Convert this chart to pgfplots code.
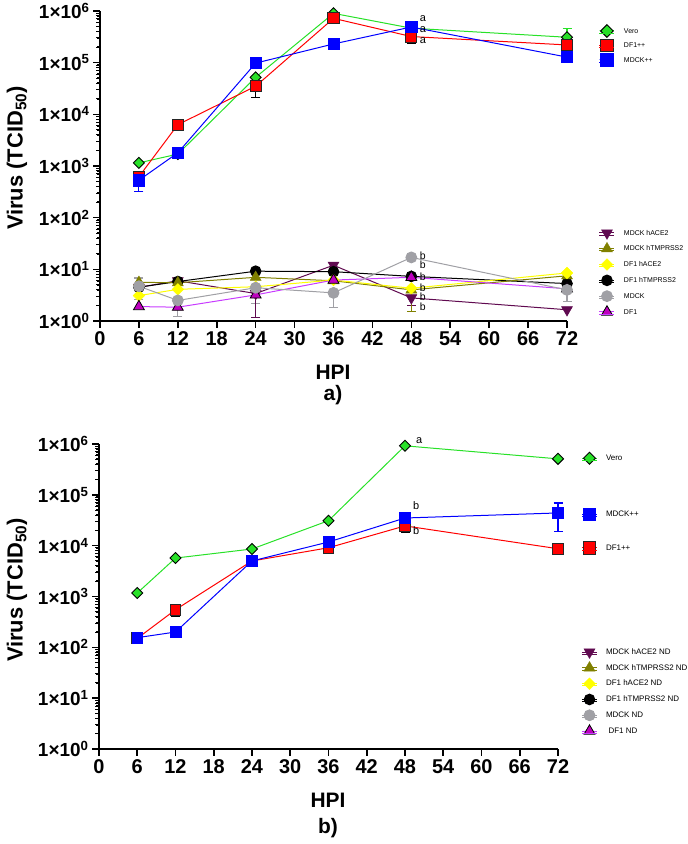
\documentclass[border=0pt]{standalone}
\usepackage{fontspec}
\setmainfont{Liberation Sans}
\usepackage{pgfplots}
\pgfplotsset{compat=1.18}

\definecolor{vgreen}{RGB}{40,225,40}
\definecolor{dred}{RGB}{255,0,0}
\definecolor{dblue}{RGB}{0,0,255}
\definecolor{dpurple}{RGB}{96,10,80}
\definecolor{olivec}{RGB}{128,128,0}
\definecolor{yell}{RGB}{255,255,0}
\definecolor{greyc}{RGB}{160,160,165}
\definecolor{magc}{RGB}{190,0,190}
\definecolor{violc}{RGB}{200,60,255}

\pgfplotsset{
  myaxis/.style={
    scale only axis, xmin=0, xmax=72, ymin=1, ymax=1e6,
    axis x line*=bottom, axis y line*=left,
    axis line style={line width=2bp, black},
    xtick align=outside, ytick align=outside,
    major tick length=7bp,
    every tick/.style={black, line width=1.6bp},
    xtick style={black, line width=1.6bp},
    ytick style={black, line width=1.6bp},
    xtick={0,6,...,72},
    ytick={1,10,100,1000,10000,100000,1000000},
    yticklabels={1×10\textsuperscript{0},1×10\textsuperscript{1},1×10\textsuperscript{2},1×10\textsuperscript{3},1×10\textsuperscript{4},1×10\textsuperscript{5},1×10\textsuperscript{6}},
    extra y ticks={2,3,4,5,6,7,8,9,20,30,40,50,60,70,80,90,200,300,400,500,600,700,800,900,2000,3000,4000,5000,6000,7000,8000,9000,20000,30000,40000,50000,60000,70000,80000,90000,200000,300000,400000,500000,600000,700000,800000,900000},
    extra y tick labels={},
    extra y tick style={major tick length=4bp, ytick align=outside, ytick style={black, line width=1bp}},
    xticklabel style={font=\bfseries\fontsize{20}{20}\selectfont},
    yticklabel style={font=\bfseries\fontsize{19}{19}\selectfont},
    /pgf/number format/assume math mode=true,
    clip=false,
    legend image code/.code={
      \draw[overlay,mark repeat=2,mark phase=2] plot coordinates {(0bp,2.2bp) (7.5bp,2.2bp) (15bp,2.2bp)};
      \path (0bp,0bp) -- (15bp,0bp);
    },
  },
  hiddenaxis/.style={scale only axis, xmin=0, xmax=72, ymin=1, ymax=1e6, hide axis, clip=false,
    legend image code/.code={
      \draw[overlay,mark repeat=2,mark phase=2] plot coordinates {(0bp,2.2bp) (7.5bp,2.2bp) (15bp,2.2bp)};
      \path (0bp,0bp) -- (15bp,0bp);
    }},
  vero/.style={color=vgreen, line width=1bp, mark=square*, mark size=3.9bp, mark options={fill=vgreen, draw=black, line width=0.9bp, rotate=45}},
  df1pp/.style={color=dred, line width=1bp, mark=square*, mark size=5.6bp, mark options={fill=dred, draw=black!85, line width=1bp}},
  mdckpp/.style={color=dblue, line width=1bp, mark=square*, mark size=5.6bp, mark options={fill=dblue, draw=dblue, line width=0.6bp}},
  mdckh/.style={color=dpurple, line width=1bp, mark=triangle*, mark size=6.3bp, mark options={fill=dpurple, draw=dpurple, rotate=180, line width=0.5bp}},
  mdckt/.style={color=olivec, line width=1bp, mark=triangle*, mark size=6.3bp, mark options={fill=olivec, draw=olivec, line width=0.5bp}},
  df1h/.style={color=yell, line width=1bp, mark=square*, mark size=4.1bp, mark options={fill=yell, draw=yell, rotate=45, line width=0.5bp}},
  df1t/.style={color=black, line width=1bp, mark=*, mark size=5.3bp, mark options={fill=black, draw=black}},
  mdck/.style={color=greyc, line width=1bp, mark=*, mark size=5.4bp, mark options={fill=greyc, draw=greyc}},
  df1/.style={color=violc, line width=1bp, mark=triangle*, mark size=6.3bp, mark options={fill=magc, draw=black, line width=0.8bp}},
}

\begin{document}
\begin{tikzpicture}[x=1bp,y=1bp]
\path[use as bounding box] (0,0) rectangle (688,844);

%================ Panel a =================
\begin{semilogyaxis}[myaxis, at={(100bp,523bp)}, anchor=south west, width=467bp, height=310bp,
  legend style={draw=none, fill=none, inner sep=0pt, outer sep=0pt, column sep=9bp, row sep=0pt,
      cells={anchor=base west}, nodes={inner sep=0pt, outer sep=0pt, text height=10bp, text depth=4.5bp},
      at={(1.0685,0.9606)}, anchor=north west, font=\fontsize{7}{7}\selectfont}]
% error bars
\addplot[only marks, mark=none, forget plot, color=greyc, error bars/.cd, y dir=both, y explicit, error bar style={line width=1.1bp, color=greyc}, error mark options={rotate=90, mark size=4.5bp, line width=1.1bp, color=greyc}]
  coordinates {(6,4.7) +- (0,2.1) (12,2.5) -= (0,1.3) (24,4.4) -= (0,2.2) (36,3.5) -= (0,1.7) (72,4.0) +- (0,1.6)};
\addplot[only marks, mark=none, forget plot, color=dpurple, error bars/.cd, y dir=both, y explicit, error bar style={line width=1.1bp, color=dpurple}, error mark options={rotate=90, mark size=4.5bp, line width=1.1bp, color=dpurple}]
  coordinates {(24,3.4) -= (0,2.25) (48,2.8) -= (0,0.8)};
\addplot[only marks, mark=none, forget plot, color=olivec, error bars/.cd, y dir=both, y explicit, error bar style={line width=1.1bp, color=olivec}, error mark options={rotate=90, mark size=4.5bp, line width=1.1bp, color=olivec}]
  coordinates {(48,4.0) -= (0,2.5)};
\addplot[only marks, mark=none, forget plot, color=black, error bars/.cd, y dir=both, y explicit, error bar style={line width=1.1bp, color=black}, error mark options={rotate=90, mark size=4.5bp, line width=1.1bp, color=black}]
  coordinates {(24,35000) -= (0,14000) (48,320000) -= (0,85000)};
\addplot[only marks, mark=none, forget plot, color=dblue, error bars/.cd, y dir=both, y explicit, error bar style={line width=1.1bp, color=dblue}, error mark options={rotate=90, mark size=4.5bp, line width=1.1bp, color=dblue}]
  coordinates {(6,530) -= (0,215)};
\addplot[only marks, mark=none, forget plot, color=vgreen, error bars/.cd, y dir=both, y explicit, error bar style={line width=1.1bp, color=vgreen}, error mark options={rotate=90, mark size=4.5bp, line width=1.1bp, color=vgreen}]
  coordinates {(72,310000) += (0,140000)};
% lower group
\addplot[mdckh, forget plot] coordinates {(6,4.5) (12,6.0) (24,3.4) (36,12) (48,2.8) (72,1.65)};
\addplot[df1t, forget plot] coordinates {(6,4.5) (12,5.8) (24,9.2) (36,9.0) (48,7.3) (72,5.3)};
\addplot[mdckt, forget plot] coordinates {(6,5.6) (12,5.5) (24,7.0) (36,6.0) (48,4.0) (72,7.5)};
\addplot[df1h, forget plot] coordinates {(6,3.1) (12,4.1) (24,4.6) (36,6.2) (48,4.3) (72,8.5)};
\addplot[df1, forget plot] coordinates {(6,1.9) (12,1.85) (24,3.2) (36,6.2) (48,7.0) (72,4.2)};
\addplot[mdck, forget plot] coordinates {(6,4.7) (12,2.5) (24,4.4) (36,3.5) (48,17) (72,4.0)};
% upper group
\addplot[vero, forget plot] coordinates {(6,1150) (12,1700) (24,52000) (36,900000) (48,465000) (72,310000)};
\addplot[df1pp, forget plot] coordinates {(6,620) (12,6300) (24,35000) (36,720000) (48,320000) (72,220000)};
\addplot[mdckpp, forget plot] coordinates {(6,530) (12,1800) (24,98000) (36,230000) (48,490000) (72,128000)};
% legend
\addlegendimage{vero, mark size=4.5bp}\addlegendentry{Vero}
\addlegendimage{df1pp, mark size=6.2bp}\addlegendentry{DF1++}
\addlegendimage{mdckpp, mark size=6.2bp}\addlegendentry{MDCK++}
% letters
\node[anchor=west, inner sep=0pt, font=\fontsize{11}{11}\selectfont] at (axis cs:49.3,726000) {a};
\node[anchor=west, inner sep=0pt, font=\fontsize{11}{11}\selectfont] at (axis cs:49.3,435000) {a};
\node[anchor=west, inner sep=0pt, font=\fontsize{11}{11}\selectfont] at (axis cs:49.3,266600) {a};
\node[anchor=west, inner sep=0pt, font=\fontsize{10.5}{10.5}\selectfont] at (axis cs:49.3,18.1) {b};
\node[anchor=west, inner sep=0pt, font=\fontsize{10.5}{10.5}\selectfont] at (axis cs:49.3,12.1) {b};
\node[anchor=west, inner sep=0pt, font=\fontsize{10.5}{10.5}\selectfont] at (axis cs:49.3,7.1) {b};
\node[anchor=west, inner sep=0pt, font=\fontsize{10.5}{10.5}\selectfont] at (axis cs:49.3,4.35) {b};
\node[anchor=west, inner sep=0pt, font=\fontsize{10.5}{10.5}\selectfont] at (axis cs:49.3,2.91) {b};
\node[anchor=west, inner sep=0pt, font=\fontsize{10.5}{10.5}\selectfont] at (axis cs:49.3,1.87) {b};
\end{semilogyaxis}

\begin{semilogyaxis}[hiddenaxis, at={(100bp,523bp)}, anchor=south west, width=467bp, height=310bp,
  legend style={draw=none, fill=none, inner sep=0pt, outer sep=0pt, column sep=9bp, row sep=0pt,
      cells={anchor=base west}, nodes={inner sep=0pt, outer sep=0pt, text height=11bp, text depth=4.8bp},
      at={(1.0685,0.3123)}, anchor=north west, font=\fontsize{7}{7}\selectfont}]
\addplot[draw=none, forget plot] coordinates {(1,1)};
\addlegendimage{mdckh}\addlegendentry{MDCK hACE2}
\addlegendimage{mdckt}\addlegendentry{MDCK hTMPRSS2}
\addlegendimage{df1h}\addlegendentry{DF1 hACE2}
\addlegendimage{df1t}\addlegendentry{DF1 hTMPRSS2}
\addlegendimage{mdck}\addlegendentry{MDCK}
\addlegendimage{df1}\addlegendentry{DF1}
\end{semilogyaxis}

%================ Panel b =================
\begin{semilogyaxis}[myaxis, at={(99bp,95bp)}, anchor=south west, width=459bp, height=305bp,
  legend style={draw=none, fill=none, inner sep=0pt, outer sep=0pt, column sep=8.5bp, row sep=0pt,
      cells={anchor=base west}, nodes={inner sep=0pt, outer sep=0pt, text height=8bp, text depth=3.2bp},
      at={(1.0512,0.9721)}, anchor=north west, font=\fontsize{8}{8}\selectfont}]
\addplot[only marks, mark=none, forget plot, color=dblue, error bars/.cd, y dir=both, y explicit, error bar style={line width=1.1bp, color=dblue}, error mark options={rotate=90, mark size=4.5bp, line width=1.1bp, color=dblue}]
  coordinates {(72,44000) +- (0,25000)};
\addplot[only marks, mark=none, forget plot, color=black, error bars/.cd, y dir=both, y explicit, error bar style={line width=1.1bp, color=black}, error mark options={rotate=90, mark size=4.5bp, line width=1.1bp, color=black}]
  coordinates {(12,550) -= (0,150) (48,24500) -= (0,6700)};
\addplot[df1pp, mark size=5.4bp, forget plot] coordinates {(6,150) (12,550) (24,5000) (36,9100) (48,24500) (72,8700)};
\addplot[mdckpp, mark size=5.4bp, forget plot] coordinates {(6,155) (12,200) (24,5000) (36,11800) (48,35000) (72,44000)};
\addplot[vero, forget plot] coordinates {(6,1170) (12,5700) (24,8600) (36,31000) (48,920000) (72,510000)};
\addlegendimage{vero, mark size=4.2bp}\addlegendentry{Vero}
\addlegendimage{empty legend}\addlegendentry{}
\addlegendimage{empty legend}\addlegendentry{}
\addlegendimage{empty legend}\addlegendentry{}
\addlegendimage{empty legend}\addlegendentry{}
\addlegendimage{mdckpp, mark size=6.1bp}\addlegendentry{MDCK++}
\addlegendimage{empty legend}\addlegendentry{}
\addlegendimage{empty legend}\addlegendentry{}
\addlegendimage{df1pp, mark size=6.1bp}\addlegendentry{DF1++}
\node[anchor=west, inner sep=0pt, font=\fontsize{11}{11}\selectfont] at (axis cs:49.7,1157000) {a};
\node[anchor=west, inner sep=0pt, font=\fontsize{11}{11}\selectfont] at (axis cs:49.25,62100) {b};
\node[anchor=west, inner sep=0pt, font=\fontsize{11}{11}\selectfont] at (axis cs:49.25,19550) {b};
\end{semilogyaxis}

\begin{semilogyaxis}[hiddenaxis, at={(99bp,95bp)}, anchor=south west, width=459bp, height=305bp,
  legend style={draw=none, fill=none, inner sep=0pt, outer sep=0pt, column sep=8.5bp, row sep=0pt,
      cells={anchor=base west}, nodes={inner sep=0pt, outer sep=0pt, text height=11bp, text depth=4.8bp},
      at={(1.0512,0.3466)}, anchor=north west, font=\fontsize{8}{8}\selectfont}]
\addplot[draw=none, forget plot] coordinates {(1,1)};
\addlegendimage{mdckh}\addlegendentry{MDCK hACE2 ND}
\addlegendimage{mdckt}\addlegendentry{MDCK hTMPRSS2 ND}
\addlegendimage{df1h}\addlegendentry{DF1 hACE2 ND}
\addlegendimage{df1t}\addlegendentry{DF1 hTMPRSS2 ND}
\addlegendimage{mdck}\addlegendentry{MDCK ND}
\addlegendimage{df1}\addlegendentry{\hspace{2.5bp}DF1 ND}
\end{semilogyaxis}

% labels
\node[rotate=90, font=\bfseries\fontsize{22}{22}\selectfont] at (17bp,686bp) {Virus (TCID\textsubscript{50})};
\node[rotate=90, font=\bfseries\fontsize{22}{22}\selectfont] at (17bp,254bp) {Virus (TCID\textsubscript{50})};
\node[font=\bfseries\fontsize{21}{21}\selectfont] at (333bp,472bp) {HPI};
\node[font=\bfseries\fontsize{21}{21}\selectfont] at (333bp,449bp) {a)};
\node[font=\bfseries\fontsize{21}{21}\selectfont] at (328bp,44bp) {HPI};
\node[font=\bfseries\fontsize{21}{21}\selectfont] at (328bp,16bp) {b)};
\end{tikzpicture}
\end{document}
